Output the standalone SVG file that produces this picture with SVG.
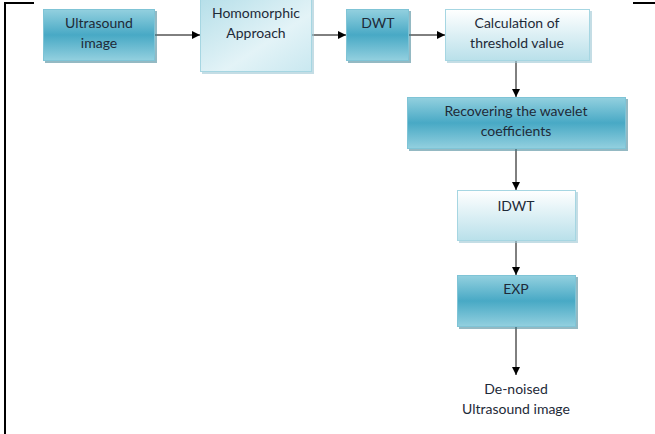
<svg xmlns="http://www.w3.org/2000/svg" width="655" height="434" viewBox="0 0 655 434">
<defs>
<linearGradient id="gDark" x1="0" y1="0" x2="0" y2="1">
<stop offset="0" stop-color="#93d0df"/>
<stop offset="0.5" stop-color="#48a9c5"/>
<stop offset="1" stop-color="#93d0df"/>
</linearGradient>
<linearGradient id="gLight" x1="0" y1="0" x2="0" y2="1">
<stop offset="0" stop-color="#ffffff"/>
<stop offset="1" stop-color="#b9e0ea"/>
</linearGradient>
<linearGradient id="gDiag" x1="0" y1="0" x2="1" y2="1">
<stop offset="0" stop-color="#b6dfe9"/>
<stop offset="0.6" stop-color="#e3f3f7"/>
<stop offset="1" stop-color="#c9e8f0"/>
</linearGradient>
<marker id="arr" viewBox="0 0 10 10" refX="10" refY="5" markerWidth="8" markerHeight="8" markerUnits="userSpaceOnUse" orient="auto">
<path d="M0,0 L10,5 L0,10 z" fill="#000"/>
</marker>
</defs>
<style>
.dark{fill:url(#gDark);stroke:#7fc4d6;stroke-width:1}
.light{fill:url(#gLight);stroke:#a6d6e2;stroke-width:1}
.diag{fill:url(#gDiag);stroke:#a6d6e2;stroke-width:1}
.shd{fill:#3d7f91;opacity:0.55}
.shl{fill:#9cc7d3;opacity:0.6}
text{font-family:Lato,"Liberation Sans",sans-serif;font-size:14px;fill:#1e2a38;text-anchor:middle}
.ln{stroke:#000;stroke-width:1;fill:none;marker-end:url(#arr)}
</style>
<g id="frame">
<path d="M5,434 V3 H34" fill="none" stroke="#000" stroke-width="2"/>
<path d="M633,3 H655" fill="none" stroke="#000" stroke-width="2"/>
</g>
<g id="connectors">
<line class="ln" x1="155" y1="35" x2="200" y2="35"/>
<line class="ln" x1="312" y1="35" x2="346" y2="35"/>
<line class="ln" x1="409" y1="35" x2="445" y2="35"/>
<line class="ln" x1="516" y1="61" x2="516" y2="97"/>
<line class="ln" x1="516" y1="149" x2="516" y2="190"/>
<line class="ln" x1="516" y1="241" x2="516" y2="275"/>
<line class="ln" x1="516" y1="327" x2="516" y2="375"/>
</g>
<g id="n-ultrasound">
<rect class="shd" x="45" y="11" width="112" height="52"/>
<rect class="dark" x="43.5" y="9.5" width="111" height="51"/>
<text x="99" y="28">Ultrasound</text>
<text x="99" y="48">image</text>
</g>
<g id="n-homomorphic">
<rect class="shl" x="202" y="0" width="112" height="74"/>
<rect class="diag" x="200.5" y="-1" width="111" height="72.5"/>
<text x="256" y="18">Homomorphic</text>
<text x="256" y="38">Approach</text>
</g>
<g id="n-dwt">
<rect class="shd" x="348" y="11" width="63" height="52"/>
<rect class="dark" x="346.5" y="9.5" width="62" height="51"/>
<text x="378" y="28">DWT</text>
</g>
<g id="n-threshold">
<rect class="shl" x="447" y="11" width="145" height="52"/>
<rect class="light" x="445.5" y="9.5" width="144" height="51"/>
<text x="517" y="28">Calculation of</text>
<text x="517" y="48">threshold value</text>
</g>
<g id="n-recover">
<rect class="shd" x="409" y="99" width="219" height="52"/>
<rect class="dark" x="407.5" y="97.5" width="218" height="51"/>
<text x="516" y="116">Recovering the wavelet</text>
<text x="516" y="136">coefficients</text>
</g>
<g id="n-idwt">
<rect class="shl" x="459" y="192" width="119" height="51"/>
<rect class="light" x="457.5" y="190.5" width="118" height="50"/>
<text x="516" y="211">IDWT</text>
</g>
<g id="n-exp">
<rect class="shd" x="459" y="277" width="119" height="52"/>
<rect class="dark" x="457.5" y="275.5" width="118" height="51"/>
<text x="516" y="294">EXP</text>
</g>
<g id="n-output">
<text x="516" y="394">De-noised</text>
<text x="516" y="414">Ultrasound image</text>
</g>
</svg>
